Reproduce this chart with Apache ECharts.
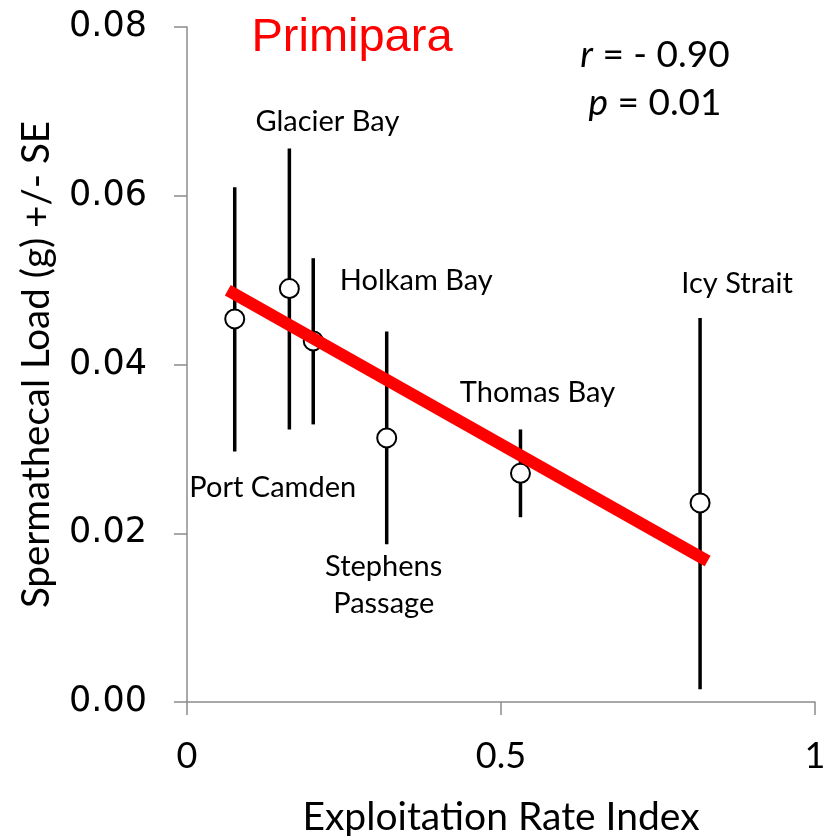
<!DOCTYPE html>
<html><head><meta charset="utf-8">
<script src="https://cdn.jsdelivr.net/npm/echarts@6/dist/echarts.min.js"></script>
<style>html,body{margin:0;padding:0;background:#fff}#c{width:829px;height:836px}</style>
</head><body><div id="c"></div>
<script>
// Data
const siteNames = ['Port Camden', 'Glacier Bay', 'Holkam Bay', 'Stephens\nPassage', 'Thomas Bay', 'Icy Strait'];
const exploitationRate = [0.076, 0.163, 0.201, 0.318, 0.531, 0.817];
const meanLoad = [0.0454, 0.0490, 0.0428, 0.0313, 0.0271, 0.0236];
const seLow = [0.0297, 0.0323, 0.0329, 0.0187, 0.0219, 0.0015];
const seHigh = [0.0610, 0.0656, 0.0526, 0.0439, 0.0323, 0.0455];
const fitX = [0.065, 0.829];
const fitY = [0.0488, 0.0167];
const xTickLabels = ['0', '0.5', '1'];
const yTickLabels = ['0.00', '0.02', '0.04', '0.06', '0.08'];

// Layout (label offsets from each point, in pixels)
const labelOffsets = [[38, 169], [38, -167], [103, -60], [-3, 147], [17, -81], [37, -219]];

const LBL = 'Lato, "Open Sans", sans-serif';
const axisColor = '#8c8c8c';

const errData = exploitationRate.map((x, i) => [x, seLow[i], seHigh[i]]);
const ptData = exploitationRate.map((x, i) => ({
  value: [x, meanLoad[i]],
  label: { show: true, formatter: siteNames[i], position: 'inside', offset: labelOffsets[i] }
}));
const fitData = fitX.map((x, i) => [x, fitY[i]]);

const chart = echarts.init(document.getElementById('c'), null, { renderer: 'canvas' });
chart.setOption({
  animation: false,
  backgroundColor: '#ffffff',
  grid: { left: 187, right: 14, top: 27, bottom: 134, containLabel: false, outerBoundsMode: 'none' },
  xAxis: {
    type: 'value', min: 0, max: 1, interval: 0.5,
    name: 'Exploitation Rate Index', nameLocation: 'middle', nameGap: 96,
    nameTextStyle: { fontFamily: LBL, fontSize: 39, color: '#000' },
    axisLine: { show: true, onZero: false, lineStyle: { color: axisColor, width: 1.5 } },
    axisTick: { show: true, inside: false, length: 13, lineStyle: { color: axisColor, width: 1.5 } },
    axisLabel: { margin: 36, fontFamily: LBL, fontSize: 36, color: '#000',
      formatter: v => xTickLabels[Math.round(v / 0.5)] },
    splitLine: { show: false }
  },
  yAxis: {
    type: 'value', min: 0, max: 0.08, interval: 0.02,
    name: 'Spermathecal Load (g) +/- SE', nameLocation: 'middle', nameGap: 131, nameRotate: 90,
    nameTextStyle: { fontFamily: LBL, fontSize: 38.5, color: '#000' },
    axisLine: { show: true, lineStyle: { color: axisColor, width: 1.5 } },
    axisTick: { show: true, inside: false, length: 13, lineStyle: { color: axisColor, width: 1.5 } },
    axisLabel: { margin: 40, fontFamily: '"DejaVu Sans", sans-serif', fontSize: 35, color: '#000',
      formatter: v => yTickLabels[Math.round(v / 0.02)] },
    splitLine: { show: false }
  },
  series: [
    {
      type: 'custom', z: 2, data: errData, encode: { x: 0, y: [1, 2] },
      renderItem: (params, api) => {
        const x = api.value(0);
        const p1 = api.coord([x, api.value(1)]);
        const p2 = api.coord([x, api.value(2)]);
        return { type: 'line', shape: { x1: p1[0], y1: p1[1], x2: p2[0], y2: p2[1] },
          style: { stroke: '#000', lineWidth: 3.5 } };
      }
    },
    {
      type: 'scatter', z: 3, data: ptData, symbol: 'circle', symbolSize: 19,
      itemStyle: { color: '#fff', borderColor: '#000', borderWidth: 2, opacity: 1 },
      label: { color: '#000', fontFamily: LBL, fontSize: 29, align: 'center', verticalAlign: 'middle', lineHeight: 37 },
      emphasis: { disabled: true }
    },
    {
      type: 'line', z: 4, data: fitData, showSymbol: false, symbol: 'none',
      lineStyle: { color: '#ff0000', width: 12, cap: 'butt' }
    }
  ],
  graphic: [
    { type: 'text', x: 352, y: 38, style: { text: 'Primipara', fill: '#ff0000',
      font: '47px "Liberation Sans", Arial, sans-serif', align: 'center', verticalAlign: 'middle' } },
    { type: 'text', x: 655, y: 55, style: { text: '{i|r} = - 0.90', fill: '#000',
      font: '37px ' + LBL, align: 'center', verticalAlign: 'middle',
      rich: { i: { fontStyle: 'italic', fontFamily: LBL, fontSize: 37, fill: '#000' } } } },
    { type: 'text', x: 655, y: 103, style: { text: '{i|p} = 0.01', fill: '#000',
      font: '37px ' + LBL, align: 'center', verticalAlign: 'middle',
      rich: { i: { fontStyle: 'italic', fontFamily: LBL, fontSize: 37, fill: '#000' } } } }
  ]
});
</script>
</body></html>
